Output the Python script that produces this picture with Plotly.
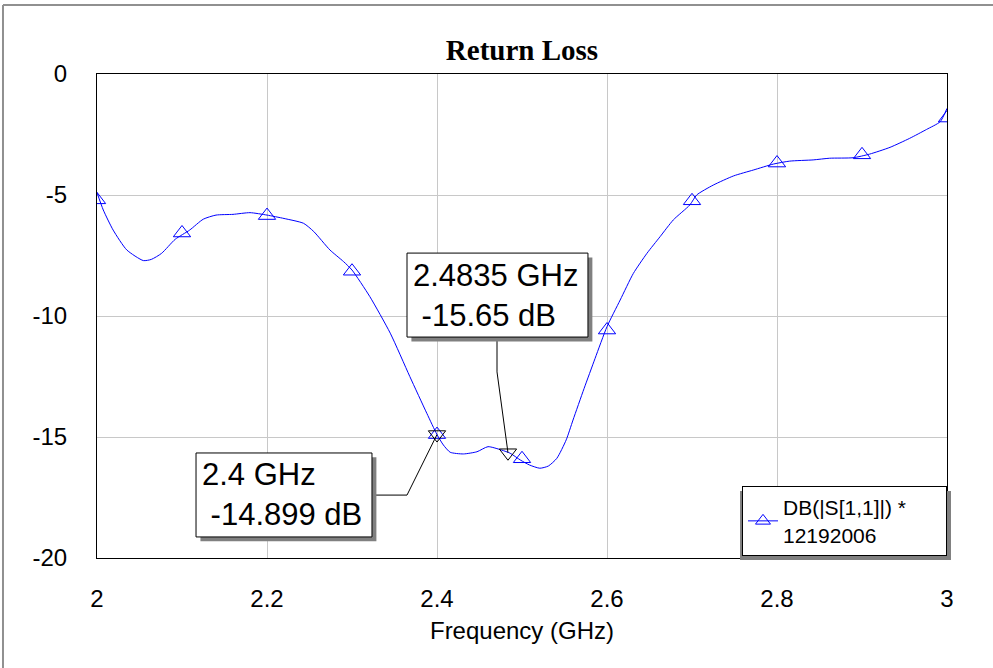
import plotly.graph_objects as go

# S11 curve (GHz, dB)
freq = [2.0, 2.0074, 2.019, 2.035, 2.0545, 2.064, 2.076, 2.092, 2.109, 2.125,
        2.14, 2.16, 2.18, 2.2, 2.22, 2.243, 2.255, 2.274, 2.29, 2.3,
        2.321, 2.345, 2.368, 2.388, 2.4, 2.4075, 2.4155, 2.431, 2.447, 2.46,
        2.476, 2.486, 2.498, 2.509, 2.521, 2.531, 2.541, 2.552, 2.56, 2.573,
        2.586, 2.6, 2.6155, 2.631, 2.647, 2.6625, 2.678, 2.6975, 2.7055, 2.725,
        2.749, 2.772, 2.796, 2.815, 2.8425, 2.862, 2.8895, 2.909, 2.933, 2.956,
        2.976, 2.992, 3.0]
s11_db = [-4.9, -5.62, -6.45, -7.27, -7.71, -7.66, -7.41, -6.83, -6.45, -6.0,
          -5.83, -5.8, -5.73, -5.83, -5.97, -6.17, -6.51, -7.27, -7.75, -8.1,
          -9.2, -10.71, -12.5, -14.02, -14.9, -15.33, -15.63, -15.7, -15.61, -15.4,
          -15.54, -15.67, -15.95, -16.16, -16.29, -16.2, -15.88, -15.12, -14.3, -13.0,
          -11.75, -10.44, -9.34, -8.24, -7.41, -6.72, -6.03, -5.41, -5.0, -4.59,
          -4.21, -3.97, -3.72, -3.6, -3.55, -3.48, -3.46, -3.31, -3.03, -2.66,
          -2.29, -1.97, -1.42]

# triangle symbols every 0.1 GHz
sym_freq = [2.0, 2.1, 2.2, 2.3, 2.4, 2.5, 2.6, 2.7, 2.8, 2.9, 3.0]
sym_db = [-5.2, -6.57, -5.85, -8.15, -14.9, -15.9, -10.58, -5.24, -3.68, -3.34, -1.82]

# marker readouts
mk_freq = [2.4, 2.4835]
mk_db = [-14.899, -15.65]
mk_text = ["2.4 GHz<br>\u00a0-14.899 dB", "2.4835 GHz<br>\u00a0-15.65 dB"]

y_ticks = [0, -5, -10, -15, -20]
y_ticktext = ["0", "-5", "-10", "-15", "-20"]

trace_name = "DB(|S[1,1]|) *" + "\u00a0" * 6 + "<br>12192006"

BLUE = "#0000ff"
FONT = "Liberation Sans"

fig = go.Figure()

fig.add_trace(go.Scatter(x=freq, y=s11_db, mode="lines", line=dict(color=BLUE, width=1, shape="spline", smoothing=0.6),
                         showlegend=False, hoverinfo="skip"))
fig.add_trace(go.Scatter(x=sym_freq, y=sym_db, mode="markers", showlegend=False,
                         marker=dict(symbol="triangle-up-open", size=15, color=BLUE, line=dict(width=1, color=BLUE))))
fig.add_trace(go.Scatter(x=mk_freq, y=mk_db, mode="markers", showlegend=False,
                         marker=dict(symbol="triangle-down-open", size=15, color="black", line=dict(width=1, color="black"))))
# legend entry
fig.add_trace(go.Scatter(x=[None], y=[None], mode="lines+markers", name=trace_name,
                         line=dict(color=BLUE, width=1),
                         marker=dict(symbol="triangle-up-open", size=13, color=BLUE, line=dict(width=1, color=BLUE))))

shapes = []
annotations = []

# readout boxes: (x0, x1, y0, y1) in axis units, plus leader path
boxes = [
    dict(x0=2.1165, x1=2.3235, y0=-19.13, y1=-15.66,
         leader=[(2.3235, -17.40), (2.3647, -17.40), (mk_freq[0], mk_db[0])]),
    dict(x0=2.3647, x1=2.5776, y0=-10.87, y1=-7.40,
         leader=[(2.4706, -10.87), (2.4706, -12.31), (mk_freq[1], mk_db[1])]),
]
dx, dy = 0.0052, 0.18
for b, txt in zip(boxes, mk_text):
    pts = b["leader"]
    path = "M {} {}".format(*pts[0]) + "".join(" L {} {}".format(*p) for p in pts[1:])
    shapes.append(dict(type="path", xref="x", yref="y", path=path, line=dict(color="black", width=1), layer="above"))
    shapes.append(dict(type="rect", xref="x", yref="y", x0=b["x0"] + dx, x1=b["x1"] + dx, y0=b["y0"] - dy, y1=b["y1"] - dy,
                       fillcolor="#808080", line=dict(width=0), layer="above"))
    shapes.append(dict(type="rect", xref="x", yref="y", x0=b["x0"], x1=b["x1"], y0=b["y0"], y1=b["y1"],
                       fillcolor="white", line=dict(color="black", width=1), layer="above"))
    annotations.append(dict(x=b["x0"] + 0.005, y=(b["y0"] + b["y1"]) / 2, xref="x", yref="y", text=txt,
                            showarrow=False, xanchor="left", yanchor="middle", align="left",
                            font=dict(family=FONT, size=31, color="black")))

# legend shadow
shapes.append(dict(type="rect", xref="paper", yref="paper", x0=0.7565, x1=1.0047, y0=-0.0041, y1=0.1384,
                   fillcolor="#808080", line=dict(width=0), layer="above"))

# outer frame (top and left edges)
shapes.append(dict(type="line", xref="paper", yref="paper", x0=-0.1106, x1=1.06, y0=1.1426, y1=1.1426,
                   line=dict(color="#909090", width=2)))
shapes.append(dict(type="line", xref="paper", yref="paper", x0=-0.1106, x1=-0.1106, y0=-0.25, y1=1.1426,
                   line=dict(color="#909090", width=2)))

fig.update_layout(
    width=993, height=668,
    margin=dict(l=97, r=46, t=74, b=110),
    paper_bgcolor="white", plot_bgcolor="white",
    title=dict(text="<b>Return Loss</b>", x=0.5, xref="paper", xanchor="center",
               y=1 - 50 / 668, yref="container", yanchor="middle",
               font=dict(family="Liberation Serif", size=29, color="black")),
    xaxis=dict(range=[2, 3], dtick=0.2, tick0=2, showgrid=True, gridcolor="#c8c8c8", gridwidth=1,
               showline=True, mirror=True, linecolor="black", linewidth=1, zeroline=False,
               ticks="outside", ticklen=19, tickcolor="rgba(0,0,0,0)",
               tickfont=dict(family=FONT, size=24, color="black"),
               title=dict(text="Frequency (GHz)", standoff=11, font=dict(family=FONT, size=24, color="black"))),
    yaxis=dict(range=[-20, 0], tickvals=y_ticks, ticktext=y_ticktext, showgrid=True, gridcolor="#c8c8c8", gridwidth=1,
               showline=True, mirror=True, linecolor="black", linewidth=1, zeroline=False,
               ticks="outside", ticklen=24, tickcolor="rgba(0,0,0,0)",
               tickfont=dict(family=FONT, size=24, color="black")),
    legend=dict(x=1, y=0.004, xanchor="right", yanchor="bottom", bgcolor="white",
                bordercolor="black", borderwidth=1, font=dict(family=FONT, size=21, color="black")),
    shapes=shapes, annotations=annotations,
    showlegend=True,
)

fig.write_html("out.html", config={"displayModeBar": False},
               post_script="document.body.style.margin='0';document.body.style.overflow='hidden';")
